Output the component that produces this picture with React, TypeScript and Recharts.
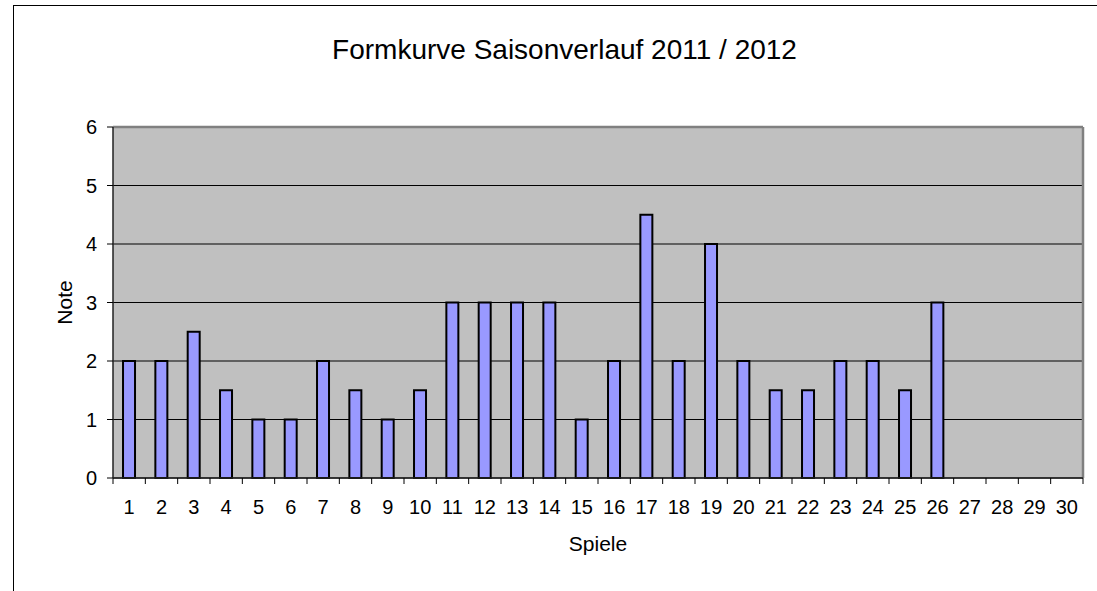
import React from 'react';
import { BarChart, Bar, XAxis, YAxis, CartesianGrid, Label } from 'recharts';

const games: string[] = [
  '1', '2', '3', '4', '5', '6', '7', '8', '9', '10',
  '11', '12', '13', '14', '15', '16', '17', '18', '19', '20',
  '21', '22', '23', '24', '25', '26', '27', '28', '29', '30',
];
const grades: (number | null)[] = [
  2, 2, 2.5, 1.5, 1, 1, 2, 1.5, 1, 1.5,
  3, 3, 3, 3, 1, 2, 4.5, 2, 4, 2,
  1.5, 1.5, 2, 2, 1.5, 3, null, null, null, null,
];
const yTicks: number[] = [0, 1, 2, 3, 4, 5, 6];
const title = 'Formkurve Saisonverlauf 2011 / 2012';
const xTitle = 'Spiele';
const yTitle = 'Note';

const data = games.map((g, i) => ({ game: g, note: grades[i] }));

const FONT = '"Liberation Sans", Arial, Helvetica, sans-serif';
const X_TICK_SIZE = 6;
const X_TICK_MARGIN = 16;

const XTick = (props: any) => {
  const { x, y, payload, index, width } = props;
  const half = payload && typeof payload.offset === 'number' && payload.offset > 0
    ? payload.offset
    : (width || 0) / (2 * games.length);
  const axisY = y - X_TICK_SIZE - X_TICK_MARGIN;
  return (
    <g>
      <line x1={x - half} x2={x - half} y1={axisY} y2={axisY + X_TICK_SIZE} stroke="#000" strokeWidth={1} />
      {index === games.length - 1 && (
        <line x1={x + half} x2={x + half} y1={axisY} y2={axisY + X_TICK_SIZE} stroke="#000" strokeWidth={1} />
      )}
      <text x={x} y={y} dy="0.71em" textAnchor="middle" fill="#000" fontSize={20} fontFamily={FONT}>
        {payload.value}
      </text>
    </g>
  );
};

const YTitle = (props: any) => {
  const vb = props.viewBox || { x: 0, y: 0, width: 113, height: 0 };
  const cx = vb.x + 64;
  const cy = vb.y + vb.height / 2;
  return (
    <text
      x={cx}
      y={cy}
      transform={`rotate(-90, ${cx}, ${cy})`}
      textAnchor="middle"
      dominantBaseline="central"
      fill="#000"
      fontSize={21}
      fontFamily={FONT}
    >
      {yTitle}
    </text>
  );
};

export default function App() {
  return (
    <div style={{ position: 'absolute', left: 0, top: 0, width: 1097, height: 591, overflow: 'hidden', background: '#fff' }}>
      <div
        style={{
          position: 'absolute',
          left: 13,
          top: 5,
          width: 1200,
          height: 700,
          border: '1.5px solid #000',
          boxSizing: 'border-box',
        }}
      />
      <div
        style={{
          position: 'absolute',
          left: 0,
          top: 36,
          width: 1129,
          textAlign: 'center',
          fontFamily: FONT,
          fontSize: 28,
          lineHeight: 1,
          color: '#000',
        }}
      >
        {title}
      </div>
      <div style={{ position: 'absolute', left: 0, top: 0 }}>
        <BarChart
          width={1097}
          height={591}
          data={data}
          margin={{ top: 127, right: 14, bottom: 0, left: 0 }}
          barCategoryGap="31%"
        >
          <CartesianGrid vertical={false} fill="#C0C0C0" fillOpacity={1} stroke="#000" strokeWidth={1} />
          <CartesianGrid
            fill="none"
            stroke="#808080"
            strokeWidth={2.5}
            horizontalCoordinatesGenerator={({ offset }: any) => [offset.top]}
            verticalCoordinatesGenerator={({ offset }: any) => [offset.left + offset.width]}
          />
          <XAxis
            dataKey="game"
            height={113}
            interval={0}
            tickSize={X_TICK_SIZE}
            tickMargin={X_TICK_MARGIN}
            tickLine={false}
            tick={<XTick />}
            axisLine={{ stroke: '#222', strokeWidth: 1.5 }}
          >
            <Label
              value={xTitle}
              position="insideTop"
              offset={58}
              fill="#000"
              fontSize={21}
              fontFamily={FONT}
            />
          </XAxis>
          <YAxis
            width={113}
            domain={[0, 6]}
            ticks={yTicks}
            interval={0}
            tickSize={6}
            tickMargin={10}
            tickLine={{ stroke: '#000' }}
            axisLine={{ stroke: '#222', strokeWidth: 1.5 }}
            tick={{ fill: '#000', fontSize: 20, fontFamily: FONT }}
          >
            <Label content={<YTitle />} />
          </YAxis>
          <Bar dataKey="note" fill="#9999FF" stroke="#000" strokeWidth={2} isAnimationActive={false} />
        </BarChart>
      </div>
    </div>
  );
}
